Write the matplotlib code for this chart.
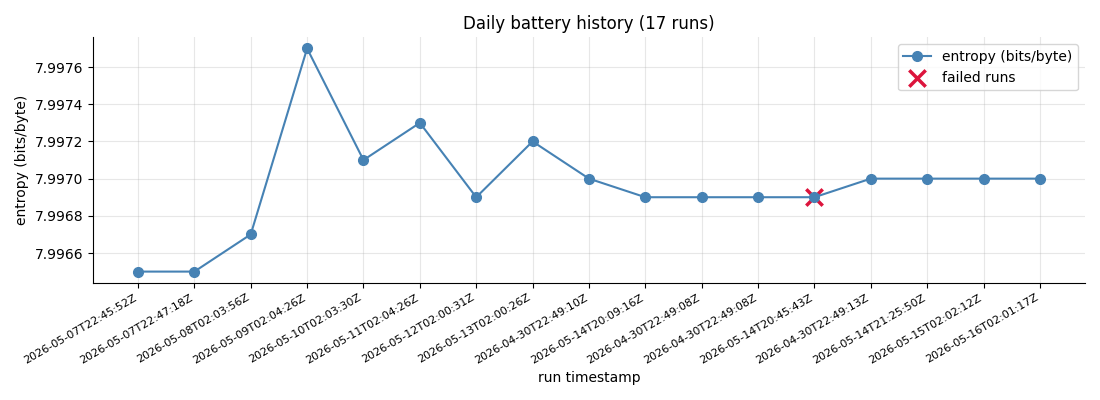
import matplotlib
matplotlib.use("Agg")
import matplotlib.pyplot as plt

timestamps = [
    "2026-05-07T22:45:52Z", "2026-05-07T22:47:18Z", "2026-05-08T02:03:56Z",
    "2026-05-09T02:04:26Z", "2026-05-10T02:03:30Z", "2026-05-11T02:04:26Z",
    "2026-05-12T02:00:31Z", "2026-05-13T02:00:26Z", "2026-04-30T22:49:10Z",
    "2026-05-14T20:09:16Z", "2026-04-30T22:49:08Z", "2026-04-30T22:49:08Z",
    "2026-05-14T20:45:43Z", "2026-04-30T22:49:13Z", "2026-05-14T21:25:50Z",
    "2026-05-15T02:02:12Z", "2026-05-16T02:01:17Z",
]
entropy = [7.9965, 7.9965, 7.9967, 7.9977, 7.9971, 7.9973, 7.9969, 7.9972,
           7.9970, 7.9969, 7.9969, 7.9969, 7.9969, 7.9970, 7.9970, 7.9970, 7.9970]
failed_idx = [12]

fig, ax = plt.subplots(figsize=(11, 4), dpi=100)
x = list(range(len(timestamps)))
ax.plot(x, entropy, marker="o", color="steelblue", markersize=7, linewidth=1.5,
        label="entropy (bits/byte)")
ax.scatter([x[i] for i in failed_idx], [entropy[i] for i in failed_idx],
           marker="x", color="crimson", s=140, linewidths=2.5, zorder=1,
           label="failed runs")
ax.set_xticks(x)
ax.set_xticklabels(timestamps, rotation=30, ha="right", fontsize=8)
ax.set_xlabel("run timestamp")
ax.set_ylabel("entropy (bits/byte)")
ax.set_title("Daily battery history (17 runs)")
ax.grid(True, alpha=0.3)
ax.spines["top"].set_visible(False)
ax.spines["right"].set_visible(False)
ax.ticklabel_format(axis="y", useOffset=False)
ax.legend(loc="upper right")
fig.tight_layout()
fig.savefig("out.png")
